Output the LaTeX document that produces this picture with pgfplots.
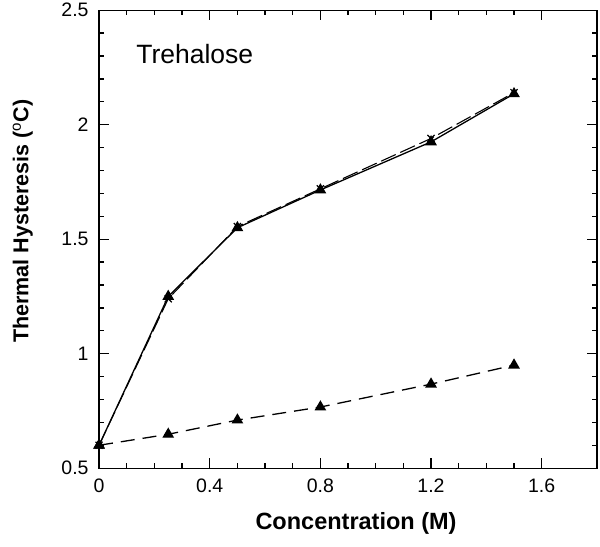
\documentclass[border=0pt]{standalone}
\usepackage{pgfplots}
\pgfplotsset{compat=1.18}
\usepackage{fontspec}
\setmainfont{Liberation Sans}
\begin{document}
\begin{tikzpicture}
\begin{axis}[
  scale only axis,
  width=498pt, height=458pt,
  xmin=0, xmax=1.8, ymin=0.5, ymax=2.5,
  xtick={0,0.4,0.8,1.2,1.6},
  ytick={0.5,1,1.5,2,2.5},
  yticklabels={0.5,1,1.5,2,2.5},
  xticklabels={0,0.4,0.8,1.2,1.6},
  minor x tick num=3,
  minor y tick num=4,
  tick align=inside,
  major tick length=10pt,
  minor tick length=5pt,
  every tick/.style={black, line width=1.3pt},
  axis line style={line width=1.3pt},
  clip=false,
  ticklabel style={font=\fontsize{19.5}{22}\selectfont},
  xticklabel style={yshift=-7pt},
  yticklabel style={xshift=-7pt},
  /pgf/number format/assume math mode=true,
  xlabel={\fontsize{23.5}{26}\selectfont\bfseries Concentration (M)},
  ylabel={\fontsize{21.5}{24}\selectfont\bfseries Thermal Hysteresis ($^{\mathrm{o}}$C)},
  xlabel style={at={(axis description cs:0.516,-0.12)}, anchor=center},
  ylabel style={at={(axis description cs:-0.153,0.539)}, anchor=center, rotate=0},
]
\addplot[black, line width=1.3pt, mark=triangle*, mark size=5.5pt]
  coordinates {(0,0.6) (0.25,1.25) (0.5,1.55) (0.8,1.715) (1.2,1.925) (1.5,2.135)};
\addplot[black, line width=1.1pt, dash pattern=on 16pt off 5pt, mark=x, mark size=5pt, mark options={solid, line width=1.2pt}]
  coordinates {(0,0.6) (0.25,1.24) (0.5,1.555) (0.8,1.72) (1.2,1.94) (1.5,2.14)};
\addplot[black, line width=1.3pt, dash pattern=on 14pt off 8pt, mark=triangle*, mark size=5.5pt, mark options={solid}]
  coordinates {(0,0.6) (0.25,0.648) (0.5,0.71) (0.8,0.767) (1.2,0.867) (1.5,0.95)};
\node[anchor=west, inner sep=0pt, font=\fontsize{26.5}{30}\selectfont] at (axis cs:0.134,2.31) {Trehalose};
\path (axis description cs:-0.199,-0.17) -- (axis description cs:1.006,1.022);
\end{axis}
\end{tikzpicture}
\end{document}
